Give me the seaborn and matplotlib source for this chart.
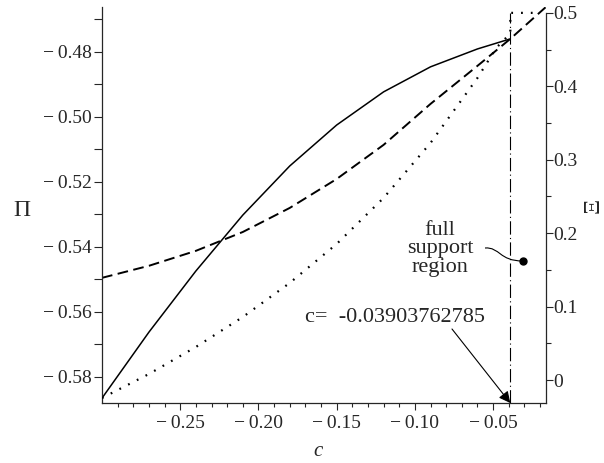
import matplotlib
matplotlib.use("Agg")
import matplotlib.pyplot as plt
import seaborn as sns
from matplotlib.path import Path
from matplotlib.patches import PathPatch
from matplotlib.ticker import FixedLocator, FixedFormatter

# ---------------- data ----------------
c_solid = [-0.30, -0.27, -0.24, -0.21, -0.18, -0.15, -0.12, -0.09, -0.06, -0.039]
pi_solid = [-0.5865, -0.5662, -0.5474, -0.5302, -0.5151, -0.5025, -0.4923,
            -0.4846, -0.4791, -0.4760]

c_dashed = [-0.30, -0.27, -0.24, -0.21, -0.18, -0.15, -0.12, -0.09, -0.06,
            -0.039, -0.0165]
pi_dashed = [-0.5495, -0.5458, -0.5412, -0.5354, -0.5280, -0.5191, -0.5086,
             -0.4960, -0.4843, -0.4760, -0.4663]

c_dotted = [-0.30, -0.27, -0.24, -0.21, -0.18, -0.15, -0.12, -0.09, -0.06,
            -0.048, -0.039, -0.039, -0.022]
xi_dotted = [-0.0245, 0.0082, 0.0450, 0.0858, 0.1322, 0.1853, 0.2480, 0.3229,
             0.4114, 0.4523, 0.472, 0.5, 0.5]

c_crit = -0.03903762785

x_major = [-0.25, -0.20, -0.15, -0.10, -0.05]
x_labels = ["\u2212\u20090.25", "\u2212\u20090.20", "\u2212\u20090.15",
            "\u2212\u20090.10", "\u2212\u20090.05"]
x_minor = [-0.29, -0.28, -0.27, -0.26, -0.24, -0.23, -0.22, -0.21, -0.19, -0.18,
           -0.17, -0.16, -0.14, -0.13, -0.12, -0.11, -0.09, -0.08, -0.07, -0.06,
           -0.04, -0.03, -0.02]
pi_major = [-0.58, -0.56, -0.54, -0.52, -0.50, -0.48]
pi_labels = ["\u2212\u20090.58", "\u2212\u20090.56", "\u2212\u20090.54",
             "\u2212\u20090.52", "\u2212\u20090.50", "\u2212\u20090.48"]
pi_minor = [-0.57, -0.55, -0.53, -0.51, -0.49, -0.47]
xi_major = [0.0, 0.1, 0.2, 0.3, 0.4, 0.5]
xi_labels = ["0", "0.1", "0.2", "0.3", "0.4", "0.5"]
xi_minor = [0.05, 0.15, 0.25, 0.35, 0.45]

# ---------------- style ----------------
sns.set_style("ticks")
plt.rcParams["font.family"] = ["Liberation Serif", "DejaVu Serif"]
plt.rcParams["axes.linewidth"] = 0.9

fig = plt.figure(figsize=(6.04, 4.63), dpi=100)
ax = fig.add_axes([102 / 604, 60 / 463, 444 / 604, 396 / 463])
ax2 = ax.twinx()

sns.lineplot(x=c_solid, y=pi_solid, ax=ax, color="black", linewidth=1.1,
             estimator=None, sort=False)
sns.lineplot(x=c_dashed, y=pi_dashed, ax=ax, color="black", linewidth=1.4,
             linestyle=(0, (5.5, 2.8)), estimator=None, sort=False)
sns.lineplot(x=c_dotted, y=xi_dotted, ax=ax2, color="black", linewidth=1.6,
             linestyle=(0, (0.8, 3.6)), estimator=None, sort=False)

ax.set_xlim(-0.3, -0.0162)
ax.set_ylim(-0.588, -0.4662)
ax2.set_ylim(-0.0313, 0.508)

# vertical dash-dot line at the critical c
ax2.plot([c_crit, c_crit], [-0.0313, 0.5], color="black", linewidth=0.8,
         linestyle=(0, (12, 3, 1, 3)))

# spines
ax.spines["top"].set_visible(False)
ax.spines["right"].set_visible(False)
for s in ["top", "left", "bottom"]:
    ax2.spines[s].set_visible(False)
ax2.spines["right"].set_bounds(-0.0313, 0.5)

# ticks
ax.xaxis.set_major_locator(FixedLocator(x_major))
ax.xaxis.set_major_formatter(FixedFormatter(x_labels))
ax.xaxis.set_minor_locator(FixedLocator(x_minor))
ax.yaxis.set_major_locator(FixedLocator(pi_major))
ax.yaxis.set_major_formatter(FixedFormatter(pi_labels))
ax.yaxis.set_minor_locator(FixedLocator(pi_minor))
ax2.yaxis.set_major_locator(FixedLocator(xi_major))
ax2.yaxis.set_major_formatter(FixedFormatter(xi_labels))
ax2.yaxis.set_minor_locator(FixedLocator(xi_minor))

ax.tick_params(axis="x", which="major", direction="out", length=5, width=0.8,
               pad=4, labelsize=14)
ax.tick_params(axis="x", which="minor", direction="out", length=3, width=0.8)
ax.tick_params(axis="y", which="major", direction="out", length=6, width=0.8,
               pad=1.5, labelsize=14)
ax.tick_params(axis="y", which="minor", direction="out", length=6, width=0.8)
ax2.tick_params(axis="y", which="major", direction="out", length=5, width=0.8,
                pad=0.5, labelsize=14)
ax2.tick_params(axis="y", which="minor", direction="out", length=3.5, width=0.8)

# axis labels
ax.set_xlabel("c", fontstyle="italic", fontsize=15)
ax.xaxis.label.set_va("center")
ax.xaxis.set_label_coords((318 - 102) / 444, (403 - 451) / 396)
ax.set_ylabel("\u03a0", rotation=0, fontsize=17)
ax.yaxis.label.set_va("center")
ax.yaxis.label.set_ha("center")
ax.yaxis.set_label_coords((22 - 102) / 444, (403 - 210) / 396)
ax2.set_ylabel("\u039e", rotation=90, fontsize=17)
ax2.yaxis.label.set_va("center")
ax2.yaxis.label.set_ha("center")
ax2.yaxis.set_label_coords((593 - 102) / 444, (403 - 205) / 396)

# annotations
ax.text((305 - 102) / 444, (403 - 318) / 396, "c=  -0.03903762785",
        transform=ax.transAxes, ha="left", va="center", fontsize=16)
ax.annotate("", xy=(c_crit, -0.588), xycoords="data",
            xytext=((452 - 102) / 444, (403 - 329) / 396), textcoords="axes fraction",
            arrowprops=dict(arrowstyle="-|>", color="black", lw=0.8,
                            mutation_scale=17, shrinkA=0, shrinkB=0))
ax.text((440 - 102) / 444, (403 - 249) / 396, "full\nsupport\nregion",
        transform=ax.transAxes, ha="center", va="center", fontsize=16,
        multialignment="center", linespacing=0.95)


def fx(px):
    return (px - 102) / 444


def fy(py):
    return (403 - py) / 396


verts = [(fx(485), fy(248)), (fx(500), fy(247)), (fx(499), fy(261)), (fx(523), fy(261))]
path = Path(verts, [Path.MOVETO, Path.CURVE4, Path.CURVE4, Path.CURVE4])
ax.add_patch(PathPatch(path, transform=ax.transAxes, facecolor="none",
                       edgecolor="black", lw=0.8))
ax.plot([fx(523)], [fy(261)], marker="o", color="black", markersize=5,
        transform=ax.transAxes, clip_on=False)

fig.savefig("out.png", dpi=100)
